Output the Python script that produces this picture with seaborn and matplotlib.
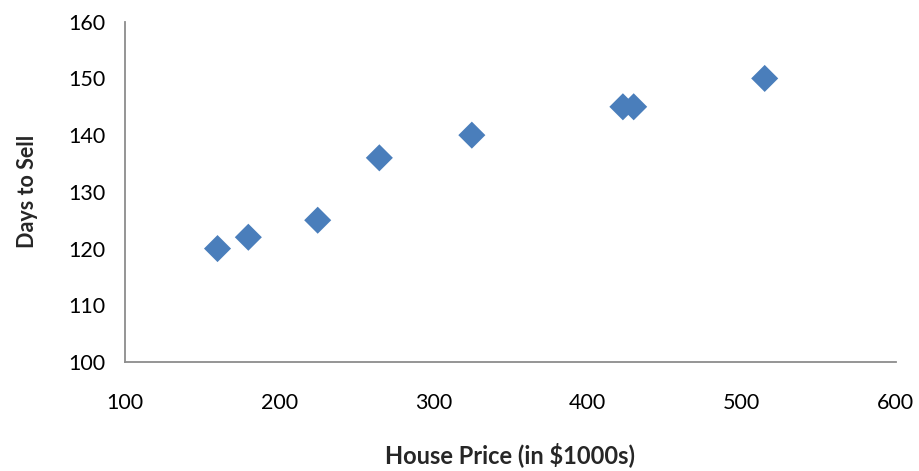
import pandas as pd
import seaborn as sns
import matplotlib.pyplot as plt

# house price (in $1000s) vs days to sell
house_price = [160, 180, 225, 265, 325, 423, 430, 515]
days_to_sell = [120, 122, 125, 136, 140, 145, 145, 150]
x_ticks = [100, 200, 300, 400, 500, 600]
y_ticks = [100, 110, 120, 130, 140, 150, 160]


def generateScatter():
    df = pd.DataFrame({"House Price": house_price, "Days to Sell": days_to_sell})

    sns.set_style("white")
    plt.rcParams["font.family"] = ["Lato", "DejaVu Sans"]

    fig = plt.figure(figsize=(9.2, 4.71), dpi=100)
    ax = fig.add_axes([0.1359, 0.2314, 0.8377, 0.7225])
    sns.scatterplot(data=df, x="House Price", y="Days to Sell", marker="D",
                    s=190, color="#4A7EBB", edgecolor="none", ax=ax)

    ax.set_xlim(100, 600)
    ax.set_ylim(100, 160)
    ax.set_xticks(x_ticks)
    ax.set_yticks(y_ticks)
    ax.tick_params(length=0, labelsize=15.5, colors="black")
    ax.tick_params(axis="x", pad=22)
    ax.tick_params(axis="y", pad=14)

    for side in ["top", "right"]:
        ax.spines[side].set_visible(False)
    for side in ["left", "bottom"]:
        ax.spines[side].set_color("#8C8C8C")
        ax.spines[side].set_linewidth(1.3)

    ax.set_xlabel("House Price (in $1000s)", fontsize=17, fontweight="bold", labelpad=21)
    ax.set_ylabel("Days to Sell", fontsize=15.5, fontweight="bold", labelpad=22)

    plt.savefig("out.png", dpi=100)


if __name__ == "__main__":
    generateScatter()
